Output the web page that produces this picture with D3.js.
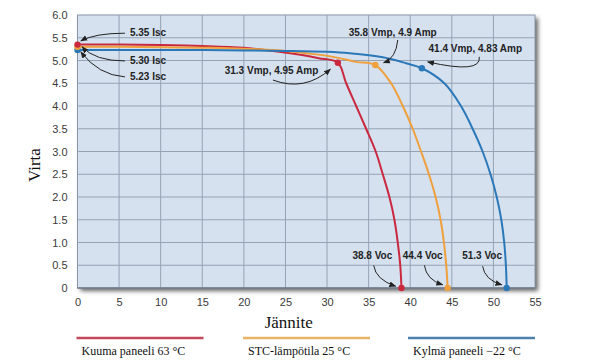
<!DOCTYPE html>
<meta charset="utf-8">
<head>
<style>
body { margin: 0; background: #fff; }
.tick text { font-family: "Liberation Sans", Arial, sans-serif; font-size: 11px; fill: #3a3a3a; }
.note { font-family: "Liberation Sans", Arial, sans-serif; font-size: 10px; font-weight: bold; fill: #222; }
.title { font-family: "Liberation Serif", "Times New Roman", serif; font-size: 17px; fill: #111; }
.legend text { font-family: "Liberation Serif", "Times New Roman", serif; font-size: 12px; fill: #111; }
</style>
</head>
<body>
<div id="chart"></div>
<script src="https://d3js.org/d3.v7.min.js"></script>
<script>

// curves: voltage (V) and current (A)
var hotV  = [0, 5, 10, 15, 20, 24, 27, 29, 31.3, 32.3, 33.5, 34.7, 35.85, 36.7, 37.5, 38.1, 38.5, 38.8, 38.95];
var hotI  = [5.35, 5.35, 5.34, 5.32, 5.28, 5.2, 5.12, 5.05, 4.95, 4.5, 4.0, 3.5, 3.0, 2.5, 2.0, 1.5, 1.0, 0.5, 0];
var stcV  = [0, 5, 10, 15, 20, 25, 28, 30.7, 33.5, 35.8, 37.7, 39.1, 40.3, 41.3, 42.25, 43.05, 43.65, 44.05, 44.33, 44.5];
var stcI  = [5.30, 5.30, 5.29, 5.28, 5.26, 5.21, 5.15, 5.08, 4.97, 4.90, 4.5, 4.0, 3.5, 3.0, 2.5, 2.0, 1.5, 1.0, 0.5, 0];
var coldV = [0, 5, 10, 15, 20, 25, 30, 32.7, 36.7, 39.5, 41.4, 44.1, 46.1, 47.5, 48.7, 49.65, 50.4, 50.95, 51.3, 51.5, 51.6];
var coldI = [5.23, 5.23, 5.23, 5.23, 5.22, 5.21, 5.19, 5.16, 5.07, 4.94, 4.83, 4.5, 4.0, 3.5, 3.0, 2.5, 2.0, 1.5, 1.0, 0.5, 0];

var seriesNames = ["Kuuma paneeli 63 °C", "STC-lämpötila 25 °C", "Kylmä paneeli \u221222 °C"];
var seriesColors = ["#c9283f", "#f0a03c", "#2b78b9"];
var legendColors = ["#c24a5a", "#e9b366", "#4a82ad"];

// marked points: Isc, Vmp, Voc
var iscValues = [5.35, 5.30, 5.23];
var vmpValues = [31.3, 35.8, 41.4];
var impValues = [4.95, 4.9, 4.83];

var xTicks = [0, 5, 10, 15, 20, 25, 30, 35, 40, 45, 50, 55];
var yTicks = [0, 0.5, 1, 1.5, 2, 2.5, 3, 3.5, 4, 4.5, 5, 5.5, 6];

// annotation labels (in data units) and their arrows [tail, control, head]
var noteTexts = ["5.35 Isc", "5.30 Isc", "5.23 Isc", "31.3 Vmp, 4.95 Amp", "35.8 Vmp, 4.9 Amp",
                 "41.4  Vmp, 4.83 Amp", "38.8 Voc", "44.4 Voc", "51.3 Voc"];
var noteV = [6.3, 6.3, 6.3, 17.7, 32.6, 42.2, 33.05, 39.1, 46.25];
var noteI = [5.6, 4.99, 4.62, 4.77, 5.6, 5.25, 0.69, 0.69, 0.69];
var arrows = [
  [[5.7, 5.6], [2.1, 5.6], [0.4, 5.43]],
  [[5.7, 4.99], [2.1, 4.99], [0.55, 5.3]],
  [[5.7, 4.64], [2.5, 4.68], [0.4, 5.19]],
  [[23.5, 4.57], [27.3, 4.31], [30.4, 4.81]],
  [[38.5, 5.45], [38.3, 5.05], [36.8, 4.95]],
  [[48.3, 5.08], [48.6, 4.7], [42.1, 4.97]],
  [[35.6, 0.5], [35.85, 0.18], [38.25, 0.04]],
  [[41.7, 0.5], [41.95, 0.18], [43.9, 0.07]],
  [[48.7, 0.48], [48.95, 0.18], [51.0, 0.07]]
];

var W = 613, H = 364;
var margin = {top: 15, right: 78, bottom: 76, left: 77.5};

var svg = d3.select("#chart").append("svg")
    .attr("width", W)
    .attr("height", H);

var x = d3.scaleLinear().domain([0, 55]).range([margin.left, W - margin.right]);
var y = d3.scaleLinear().domain([0, 6]).range([H - margin.bottom, margin.top]);

var defs = svg.append("defs");
defs.append("filter").attr("id", "shadow")
    .attr("x", "-5%").attr("y", "-5%").attr("width", "115%").attr("height", "115%")
  .append("feGaussianBlur").attr("stdDeviation", 2);
defs.append("marker")
    .attr("id", "head")
    .attr("viewBox", "0 0 10 10")
    .attr("refX", 9).attr("refY", 5)
    .attr("markerWidth", 7).attr("markerHeight", 7)
    .attr("orient", "auto")
  .append("path")
    .attr("d", "M0,1 L10,5 L0,9 z")
    .attr("fill", "#222");

// shadow + plot background
svg.append("rect")
    .attr("x", x(0) + 3).attr("y", y(6) + 3)
    .attr("width", x(55) - x(0)).attr("height", y(0) - y(6))
    .attr("fill", "#666")
    .attr("filter", "url(#shadow)");
svg.append("rect")
    .attr("x", x(0)).attr("y", y(6))
    .attr("width", x(55) - x(0)).attr("height", y(0) - y(6))
    .attr("fill", "#d5e1ef")
    .attr("stroke", "#8a96a6");

// grid
svg.append("g")
  .selectAll("line")
  .data(xTicks.slice(1, -1))
  .enter().append("line")
    .attr("x1", function(d) { return x(d); }).attr("x2", function(d) { return x(d); })
    .attr("y1", y(0)).attr("y2", y(6))
    .attr("stroke", "#95a3b5").attr("stroke-width", 1);
svg.append("g")
  .selectAll("line")
  .data(yTicks.slice(1, -1))
  .enter().append("line")
    .attr("x1", x(0)).attr("x2", x(55))
    .attr("y1", function(d) { return y(d); }).attr("y2", function(d) { return y(d); })
    .attr("stroke", "#95a3b5").attr("stroke-width", 1);
svg.append("line")
    .attr("x1", x(0)).attr("x2", x(55))
    .attr("y1", y(0)).attr("y2", y(0))
    .attr("stroke", "#6f7b8a").attr("stroke-width", 1.5);

// axes (labels only)
var xAxis = svg.append("g")
    .attr("transform", "translate(0," + (y(0) + 4) + ")")
    .call(d3.axisBottom(x).tickValues(xTicks).tickSize(0).tickPadding(6).tickFormat(d3.format("d")));
xAxis.select(".domain").remove();
var yAxis = svg.append("g")
    .attr("transform", "translate(" + (x(0) - 4) + ",0)")
    .call(d3.axisLeft(y).tickValues(yTicks).tickSize(0).tickPadding(6)
      .tickFormat(function(d) { return d === 0 ? "0" : d3.format(".1f")(d); }));
yAxis.select(".domain").remove();

svg.append("text")
    .attr("class", "title")
    .attr("transform", "translate(36," + y(2.7) + ") rotate(-90)")
    .attr("text-anchor", "middle")
    .attr("dominant-baseline", "middle")
    .text("Virta");
svg.append("text")
    .attr("class", "title")
    .attr("x", x(25.4)).attr("y", 328)
    .attr("text-anchor", "middle")
    .text("Jännite");

// curves
var curves = [
  d3.zip(hotV, hotI),
  d3.zip(stcV, stcI),
  d3.zip(coldV, coldI)
];
var line = d3.line()
    .x(function(d) { return x(d[0]); })
    .y(function(d) { return y(d[1]); })
    .curve(d3.curveCatmullRom.alpha(0.5));

svg.append("g")
  .selectAll("path")
  .data(curves)
  .enter().append("path")
    .attr("d", line)
    .attr("fill", "none")
    .attr("stroke", function(d, i) { return seriesColors[i]; })
    .attr("stroke-width", 2);

// dots at Isc, Vmp and Voc
var dots = [];
curves.forEach(function(c, i) {
  dots.push({v: 0, a: iscValues[i], k: i});
  dots.push({v: vmpValues[i], a: impValues[i], k: i});
  dots.push({v: c[c.length - 1][0], a: 0, k: i});
});
svg.append("g")
  .selectAll("circle")
  .data(dots.reverse())
  .enter().append("circle")
    .attr("cx", function(d) { return x(d.v); })
    .attr("cy", function(d) { return y(d.a); })
    .attr("r", 3.2)
    .attr("fill", function(d) { return seriesColors[d.k]; });

// arrows and labels
svg.append("g")
  .selectAll("path")
  .data(arrows)
  .enter().append("path")
    .attr("d", function(a) {
      return "M" + x(a[0][0]) + "," + y(a[0][1]) +
             " Q" + x(a[1][0]) + "," + y(a[1][1]) +
             " " + x(a[2][0]) + "," + y(a[2][1]);
    })
    .attr("fill", "none")
    .attr("stroke", "#222")
    .attr("stroke-width", 1)
    .attr("marker-end", "url(#head)");

svg.append("g")
  .selectAll("text")
  .data(noteTexts)
  .enter().append("text")
    .attr("class", "note")
    .attr("x", function(d, i) { return x(noteV[i]); })
    .attr("y", function(d, i) { return y(noteI[i]); })
    .attr("dominant-baseline", "middle")
    .text(function(d) { return d; });

// legend
var legendX = [76.5, 243, 408];
var legend = svg.selectAll(".legend")
    .data(seriesNames)
  .enter().append("g")
    .attr("class", "legend")
    .attr("transform", function(d, i) { return "translate(" + legendX[i] + ",338)"; });
legend.append("line")
    .attr("x1", 0).attr("x2", 127)
    .attr("stroke", function(d, i) { return legendColors[i]; })
    .attr("stroke-width", 2.5);
legend.append("text")
    .attr("x", 5).attr("y", 17)
    .text(function(d) { return d; });

</script>
</body>
